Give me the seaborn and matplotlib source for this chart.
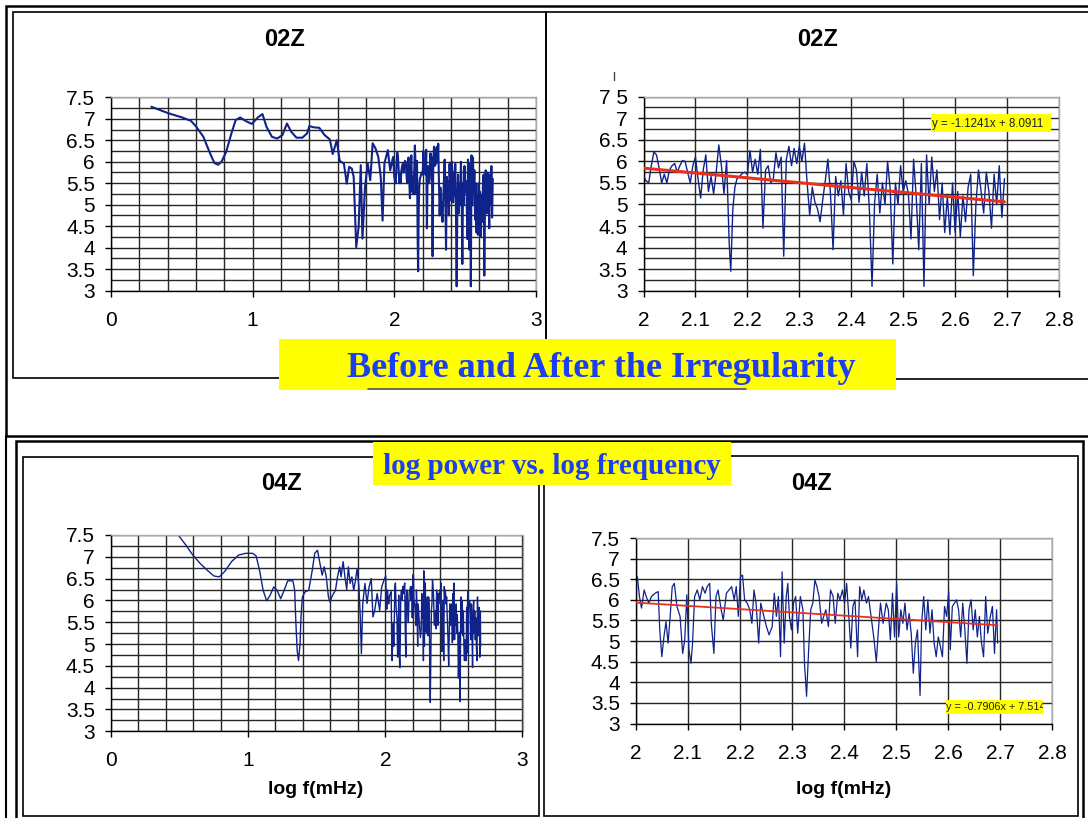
import numpy as np
import pandas as pd
import matplotlib
matplotlib.use("Agg")
import matplotlib.pyplot as plt
import seaborn as sns
from matplotlib.patches import Rectangle
from matplotlib.lines import Line2D

# ---------------- data ----------------
# 02Z, low-frequency part (before 2.0)
z02_low_x = [0.285, 0.404, 0.503, 0.565, 0.603, 0.652, 0.700, 0.730, 0.756, 0.780,
             0.813, 0.850, 0.880, 0.912, 0.950, 0.994, 1.036, 1.069, 1.098, 1.136,
             1.173, 1.210, 1.242, 1.272, 1.309, 1.351, 1.384, 1.400, 1.433, 1.470,
             1.508, 1.545, 1.565, 1.594, 1.614, 1.644, 1.664, 1.681, 1.700, 1.713,
             1.731, 1.748, 1.763, 1.775, 1.793, 1.812, 1.830, 1.847, 1.867, 1.887,
             1.904, 1.917, 1.930, 1.954, 1.971, 1.991]
z02_low_y = [7.28, 7.13, 7.03, 6.95, 6.81, 6.58, 6.19, 5.97, 5.93, 6.00,
             6.23, 6.66, 6.97, 7.03, 6.95, 6.88, 7.03, 7.11, 6.81, 6.58,
             6.54, 6.62, 6.89, 6.70, 6.56, 6.56, 6.66, 6.83, 6.80, 6.79,
             6.62, 6.52, 6.18, 6.50, 6.02, 5.96, 5.49, 5.88, 5.84, 5.65,
             4.01, 4.48, 5.92, 4.21, 5.41, 5.96, 5.57, 6.43, 6.31, 6.11,
             5.65, 4.63, 5.96, 6.27, 5.80, 6.11]

# 02Z, x >= 2.0
z02_high_x = [2.000, 2.005, 2.010, 2.015, 2.020, 2.025, 2.030, 2.035, 2.040, 2.045,
              2.050, 2.055, 2.060, 2.065, 2.070, 2.075, 2.080, 2.085, 2.090, 2.095,
              2.100, 2.105, 2.110, 2.115, 2.120, 2.125, 2.130, 2.135, 2.140, 2.145,
              2.150, 2.155, 2.160, 2.165, 2.168, 2.172, 2.176, 2.180, 2.185, 2.190,
              2.195, 2.200, 2.205, 2.210, 2.215, 2.220, 2.225, 2.230, 2.235, 2.240,
              2.245, 2.250, 2.255, 2.260, 2.265, 2.270, 2.275, 2.280, 2.285, 2.290,
              2.295, 2.300, 2.305, 2.310, 2.315, 2.320, 2.325, 2.330, 2.335, 2.340,
              2.345, 2.350, 2.355, 2.360, 2.365, 2.370, 2.375, 2.380, 2.385, 2.390,
              2.395, 2.400, 2.405, 2.410, 2.415, 2.420, 2.425, 2.430, 2.435, 2.440,
              2.445, 2.450, 2.455, 2.460, 2.465, 2.470, 2.475, 2.480, 2.485, 2.490,
              2.495, 2.500, 2.505, 2.510, 2.515, 2.520, 2.525, 2.530, 2.535, 2.540,
              2.545, 2.550, 2.555, 2.560, 2.565, 2.570, 2.575, 2.580, 2.585, 2.590,
              2.595, 2.600, 2.605, 2.610, 2.615, 2.620, 2.625, 2.630, 2.635, 2.640,
              2.645, 2.650, 2.655, 2.660, 2.665, 2.670, 2.675, 2.680, 2.685, 2.690,
              2.695]
z02_high_y = [5.65, 5.55, 5.50, 5.90, 6.22, 6.15, 5.85, 5.50, 5.70, 5.50,
              5.80, 5.90, 5.95, 5.75, 5.90, 6.02, 6.00, 5.75, 5.50, 5.90,
              6.10, 5.60, 5.15, 5.80, 6.15, 5.30, 5.65, 5.25, 5.75, 6.38,
              5.90, 5.25, 6.02, 4.10, 3.45, 4.90, 5.40, 5.60, 5.65, 5.72,
              5.75, 5.70, 6.25, 5.75, 6.05, 5.70, 6.28, 4.45, 5.80, 5.90,
              5.50, 5.60, 6.20, 5.85, 6.10, 3.80, 6.05, 6.35, 5.90, 6.30,
              5.95, 6.35, 6.00, 6.42, 5.50, 4.75, 5.40, 5.05, 4.90, 4.60,
              5.10, 5.55, 6.05, 5.25, 3.95, 5.65, 5.20, 5.55, 4.75, 5.95,
              5.30, 5.10, 6.00, 5.80, 5.05, 5.75, 5.20, 5.95, 4.85, 3.10,
              5.05, 5.70, 4.80, 5.50, 5.00, 6.00, 5.35, 3.62, 5.50, 5.00,
              5.90, 5.30, 5.55, 5.25, 4.20, 6.05, 5.20, 3.95, 5.95, 3.10,
              6.15, 5.00, 6.10, 5.30, 5.80, 4.65, 5.50, 4.35, 5.20, 4.30,
              5.50, 4.35, 5.30, 4.25, 5.20, 4.60, 5.40, 5.70, 3.35, 5.00,
              5.80, 5.30, 4.80, 5.75, 5.30, 4.45, 5.70, 5.00, 5.90, 4.70,
              5.60]

# 04Z, low-frequency part (before 2.0)
z04_low_x = [0.491, 0.547, 0.593, 0.650, 0.714, 0.752, 0.790, 0.829, 0.880, 0.931,
             0.982, 1.033, 1.059, 1.084, 1.110, 1.136, 1.161, 1.187, 1.212, 1.238,
             1.263, 1.289, 1.327, 1.340, 1.348, 1.358, 1.368, 1.379, 1.386, 1.396,
             1.417, 1.442, 1.468, 1.486, 1.506, 1.524, 1.540, 1.555, 1.570, 1.586,
             1.596, 1.616, 1.637, 1.652, 1.668, 1.678, 1.693, 1.706, 1.719, 1.731,
             1.744, 1.757, 1.770, 1.783, 1.795, 1.808, 1.818, 1.826, 1.836, 1.852,
             1.867, 1.882, 1.898, 1.910, 1.923, 1.941, 1.959, 1.974, 1.990]
z04_low_y = [7.50, 7.27, 7.06, 6.85, 6.66, 6.56, 6.54, 6.66, 6.89, 7.04,
             7.08, 7.08, 7.02, 6.69, 6.23, 5.99, 6.12, 6.31, 6.23, 6.04,
             6.23, 6.45, 6.45, 6.23, 5.54, 4.85, 4.62, 5.01, 5.62, 6.08,
             6.20, 6.23, 6.69, 7.08, 7.15, 6.85, 6.58, 6.77, 6.54, 6.08,
             5.97, 6.12, 6.23, 6.54, 6.77, 6.54, 6.89, 6.54, 6.25, 6.77,
             6.39, 6.54, 6.23, 6.46, 6.73, 6.31, 5.62, 4.78, 5.93, 6.39,
             5.93, 6.31, 6.50, 5.62, 5.77, 6.16, 5.77, 6.31, 6.46]

# 04Z, x >= 2.0
z04_high_x = [2.003, 2.007, 2.011, 2.016, 2.020, 2.025, 2.030, 2.037, 2.043, 2.046,
              2.050, 2.054, 2.058, 2.062, 2.066, 2.070, 2.074, 2.079, 2.085, 2.090,
              2.094, 2.098, 2.102, 2.106, 2.109, 2.113, 2.118, 2.123, 2.128, 2.133,
              2.137, 2.142, 2.145, 2.150, 2.154, 2.158, 2.164, 2.168, 2.174, 2.179,
              2.184, 2.189, 2.193, 2.197, 2.201, 2.205, 2.209, 2.214, 2.219, 2.223,
              2.227, 2.231, 2.236, 2.240, 2.246, 2.251, 2.256, 2.262, 2.266, 2.270,
              2.274, 2.278, 2.281, 2.285, 2.289, 2.292, 2.295, 2.299, 2.303, 2.307,
              2.311, 2.316, 2.321, 2.324, 2.328, 2.332, 2.336, 2.340, 2.344, 2.348,
              2.352, 2.357, 2.361, 2.365, 2.370, 2.374, 2.379, 2.383, 2.388, 2.392,
              2.397, 2.401, 2.405, 2.409, 2.413, 2.417, 2.421, 2.426, 2.430, 2.434,
              2.438, 2.443, 2.447, 2.452, 2.457, 2.462, 2.466, 2.470, 2.475, 2.481,
              2.485, 2.489, 2.493, 2.497, 2.501, 2.505, 2.509, 2.513, 2.517, 2.521,
              2.525, 2.529, 2.533, 2.537, 2.541, 2.546, 2.549, 2.553, 2.557, 2.561,
              2.565, 2.569, 2.573, 2.577, 2.581, 2.585, 2.589, 2.593, 2.597, 2.601,
              2.604, 2.608, 2.612, 2.616, 2.620, 2.624, 2.628, 2.632, 2.636, 2.640,
              2.644, 2.648, 2.652, 2.656, 2.660, 2.664, 2.668, 2.672, 2.676, 2.681,
              2.685, 2.689, 2.693, 2.695]
z04_high_y = [6.56, 6.08, 5.80, 6.24, 6.08, 5.92, 6.08, 6.16, 6.20, 5.27,
              4.62, 5.10, 5.47, 4.95, 5.60, 6.32, 6.40, 5.84, 5.60, 4.70,
              5.03, 6.12, 4.79, 4.46, 4.95, 6.08, 6.24, 6.00, 6.32, 6.16,
              6.32, 6.40, 5.43, 4.70, 6.08, 6.24, 5.76, 5.51, 6.16, 6.24,
              6.32, 6.00, 6.32, 5.60, 6.56, 6.60, 6.00, 5.92, 5.76, 5.43,
              6.24, 5.92, 4.95, 5.92, 5.60, 5.35, 5.15, 5.35, 6.16, 5.60,
              6.08, 4.62, 6.68, 4.95, 6.08, 6.40, 5.60, 5.27, 5.92, 6.08,
              5.19, 6.08, 5.76, 4.46, 3.66, 4.79, 5.76, 5.92, 6.48, 6.32,
              6.08, 5.43, 5.60, 5.76, 5.35, 6.24, 6.08, 5.43, 6.16, 6.00,
              6.24, 5.92, 6.40, 5.60, 4.83, 5.84, 6.00, 4.62, 6.32, 6.00,
              6.24, 5.92, 6.08, 5.60, 5.10, 4.50, 5.27, 5.92, 5.43, 5.92,
              5.76, 5.03, 6.16, 5.10, 6.40, 5.10, 5.76, 5.43, 5.92, 5.27,
              5.67, 5.19, 4.22, 4.95, 5.27, 3.68, 5.43, 6.08, 5.27, 6.00,
              5.19, 5.76, 4.95, 4.62, 5.10, 4.87, 4.62, 5.84, 5.60, 6.20,
              4.79, 5.84, 5.92, 6.00, 5.76, 5.10, 5.92, 5.27, 4.46, 5.76,
              6.00, 5.27, 5.76, 5.10, 5.60, 4.95, 4.62, 6.08, 5.19, 5.60,
              5.84, 4.70, 5.76, 4.95]

# trend lines (as printed on the chart)
trend02_slope, trend02_intercept = -1.1241, 8.0911
trend04_slope, trend04_intercept = -0.7906, 7.514
trend_x_range = [2.0, 2.695]

titles = ["02Z", "02Z", "04Z", "04Z"]
xlabel_text = "log f(mHz)"
banner1_text = "Before and After the Irregularity"
banner2_text = "log power vs. log frequency"
trend02_label = "y = -1.1241x + 8.0911"
trend04_label = "y = -0.7906x + 7.514"

left_xticks = [0, 1, 2, 3]
right_xticks = [2.0, 2.1, 2.2, 2.3, 2.4, 2.5, 2.6, 2.7, 2.8]
right_xticklabels = ["2", "2.1", "2.2", "2.3", "2.4", "2.5", "2.6", "2.7", "2.8"]
yticks = [3, 3.5, 4, 4.5, 5, 5.5, 6, 6.5, 7, 7.5]
yticklabels = ["3", "3.5", "4", "4.5", "5", "5.5", "6", "6.5", "7", "7.5"]
yticklabels_tr = ["3", "3.5", "4", "4.5", "5", "5.5", "6", "6.5", "7", "7 5"]

# ---------------- figure ----------------
W, H = 1088, 818
sns.set_style("white")
plt.rcParams["font.family"] = ["Liberation Sans", "DejaVu Sans"]
plt.rcParams["text.color"] = "black"

fig = plt.figure(figsize=(W / 100, H / 100), dpi=100)

LINE = "#10238a"
RED = "#e8301c"
YEL = "#ffff00"
BLUE = "#1b3ff0"


def add_ax(l, t, r, b):
    return fig.add_axes([l / W, 1 - b / H, (r - l) / W, (b - t) / H])


def box(l, t, r, b, lw=1.2, ec="black", fc="none", z=1):
    fig.add_artist(Rectangle((l / W, 1 - b / H), (r - l) / W, (b - t) / H,
                             transform=fig.transFigure, lw=lw, ec=ec, fc=fc, zorder=z))


def hline(x0, x1, y, lw=1.0, c="black", z=1):
    fig.add_artist(Line2D([x0 / W, x1 / W], [1 - y / H, 1 - y / H], transform=fig.transFigure,
                          lw=lw, color=c, zorder=z))


def vline(x, y0, y1, lw=1.0, c="black", z=1):
    fig.add_artist(Line2D([x / W, x / W], [1 - y0 / H, 1 - y1 / H], transform=fig.transFigure,
                          lw=lw, color=c, zorder=z))


def ftext(x, y, s, **kw):
    return fig.text(x / W, 1 - y / H, s, **kw)


# frames
box(6, 6, 1095, 436, lw=1.8)
box(13, 12, 546, 378, lw=1.2)
box(546, 12, 1095, 379, lw=1.2)
vline(6, 436, 820, lw=1.5)
box(16, 441, 1083, 822, lw=1.8)
box(23, 457, 539, 816, lw=1.2)
box(544, 456, 1078, 816, lw=1.2)


def style(ax, xlim, xticks, xlabels, xminor, yminor, ylabels):
    ax.set_xlim(*xlim)
    ax.set_ylim(3, 7.5)
    ax.set_xticks(xticks)
    ax.set_xticklabels(xlabels)
    if xminor is not None:
        ax.set_xticks(xminor, minor=True)
    ax.set_yticks(yticks)
    ax.set_yticklabels(ylabels)
    if yminor is not None:
        ax.set_yticks(yminor, minor=True)
    ax.grid(True, which="both", color="#262626", lw=1.0)
    ax.set_axisbelow(True)
    ax.tick_params(which="major", direction="out", length=4.5, width=1, color="black",
                   labelcolor="black", labelsize=15, pad=7, left=True, bottom=True)
    ax.tick_params(axis="x", which="major", pad=10)
    ax.tick_params(which="minor", length=0)
    for s in ["left", "bottom"]:
        ax.spines[s].set_color("black")
        ax.spines[s].set_linewidth(1.0)
    for s in ["top", "right"]:
        ax.spines[s].set_color("#a8a8a8")
        ax.spines[s].set_linewidth(1.0)
    ax.set_xlabel("")
    ax.set_ylabel("")
    ax.set_facecolor("white")


y_quarter = [3.25, 3.75, 4.25, 4.75, 5.25, 5.75, 6.25, 6.75, 7.25]
left_minor = [0.2, 0.4, 0.6, 0.8, 1.2, 1.4, 1.6, 1.8, 2.2, 2.4, 2.6, 2.8]

df02 = pd.DataFrame({"logf": z02_low_x + z02_high_x, "logp": z02_low_y + z02_high_y})
df02h = pd.DataFrame({"logf": z02_high_x, "logp": z02_high_y})
df04 = pd.DataFrame({"logf": z04_low_x + z04_high_x, "logp": z04_low_y + z04_high_y})
df04h = pd.DataFrame({"logf": z04_high_x, "logp": z04_high_y})

# top-left
ax1 = add_ax(111, 97.3, 536, 290.6)
sns.lineplot(data=df02, x="logf", y="logp", sort=False, estimator=None, ax=ax1,
             color=LINE, lw=1.5)
style(ax1, (0, 3), left_xticks, [str(v) for v in left_xticks], left_minor, y_quarter, yticklabels)

# top-right
ax2 = add_ax(643.5, 96.7, 1059, 290.7)
sns.lineplot(data=df02h, x="logf", y="logp", sort=False, estimator=None, ax=ax2,
             color=LINE, lw=1.0)
tx = np.array(trend_x_range)
ax2.plot(tx, trend02_slope * tx + trend02_intercept, color=RED, lw=2.2, zorder=5)
style(ax2, (2.0, 2.8), right_xticks, right_xticklabels, None, y_quarter, yticklabels_tr)

# bottom-left
ax3 = add_ax(110.8, 535, 522.5, 731.3)
sns.lineplot(data=df04, x="logf", y="logp", sort=False, estimator=None, ax=ax3,
             color=LINE, lw=1.0)
style(ax3, (0, 3), left_xticks, [str(v) for v in left_xticks], left_minor, y_quarter, yticklabels)

# bottom-right
ax4 = add_ax(635.8, 538, 1052.3, 723.5)
sns.lineplot(data=df04h, x="logf", y="logp", sort=False, estimator=None, ax=ax4,
             color=LINE, lw=0.9)
ax4.plot(tx, trend04_slope * tx + trend04_intercept, color=RED, lw=1.3, zorder=5)
style(ax4, (2.0, 2.8), right_xticks, right_xticklabels, None, None, yticklabels)

# titles and axis labels
ftext(284.6, 40, titles[0], ha="center", va="center", fontsize=17, fontweight="bold")
ftext(818, 40, titles[1], ha="center", va="center", fontsize=17, fontweight="bold")
ftext(281, 483, titles[2], ha="center", va="center", fontsize=17, fontweight="bold")
ftext(811.6, 483, titles[3], ha="center", va="center", fontsize=17, fontweight="bold")
ftext(315.7, 789, xlabel_text, ha="center", va="center", fontsize=14, fontweight="bold")
ftext(844, 789, xlabel_text, ha="center", va="center", fontsize=14, fontweight="bold")

# small stray mark above the top-right y axis
vline(614, 72, 80, lw=1.0, c="#444444", z=3)

# trend-line labels
box(931, 114.3, 1051, 131.7, lw=0, ec="none", fc=YEL, z=4)
ftext(932.5, 123.5, trend02_label, ha="left", va="center", fontsize=8.3, color="#202020", zorder=5)
box(945.7, 700, 1043.3, 713.6, lw=0, ec="none", fc=YEL, z=4)
clip = Rectangle((945.7 / W, 1 - 713.6 / H), (1043.3 - 945.7) / W, 13.6 / H,
                 transform=fig.transFigure, fc="none", ec="none")
t4 = ftext(946.5, 707, trend04_label, ha="left", va="center",
           fontsize=7.8, color="#202020", zorder=5)
t4.set_clip_path(clip)

# banners
box(279, 339, 896, 390, lw=0, ec="none", fc=YEL, z=6)
hline(368, 746, 388.6, lw=1.2, c="#555555", z=7)
ftext(601, 377, banner1_text, ha="center", va="baseline", fontsize=26, fontweight="bold",
      family=["Liberation Serif", "DejaVu Serif"], color=BLUE, zorder=8)
box(372.5, 442, 730.5, 485.5, lw=0, ec="none", fc=YEL, z=6)
ftext(551.5, 473.5, banner2_text, ha="center", va="baseline", fontsize=21, fontweight="bold",
      family=["Liberation Serif", "DejaVu Serif"], color=BLUE, zorder=8)

fig.savefig("out.png", dpi=100)
